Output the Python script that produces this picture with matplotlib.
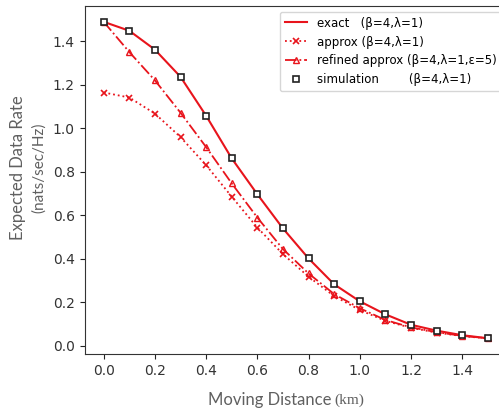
import matplotlib
matplotlib.use("Agg")
import matplotlib.pyplot as plt

distance = [0.0, 0.1, 0.2, 0.3, 0.4, 0.5, 0.6, 0.7, 0.8, 0.9, 1.0, 1.1, 1.2, 1.3, 1.4, 1.5]
exact = [1.489, 1.448, 1.361, 1.236, 1.057, 0.861, 0.696, 0.539, 0.401, 0.282, 0.204, 0.144, 0.096, 0.069, 0.048, 0.034]
approx = [1.164, 1.141, 1.067, 0.959, 0.830, 0.685, 0.543, 0.421, 0.317, 0.228, 0.164, 0.114, 0.082, 0.060, 0.044, 0.033]
refined = [1.489, 1.350, 1.220, 1.071, 0.913, 0.746, 0.589, 0.444, 0.332, 0.237, 0.172, 0.118, 0.084, 0.062, 0.045, 0.034]
simulation = [1.489, 1.448, 1.361, 1.236, 1.057, 0.861, 0.696, 0.539, 0.401, 0.282, 0.204, 0.144, 0.096, 0.069, 0.048, 0.034]

labels = ["exact   (\u03b2=4,\u03bb=1)",
          "approx (\u03b2=4,\u03bb=1)",
          "refined approx (\u03b2=4,\u03bb=1,\u03b5=5)",
          "simulation        (\u03b2=4,\u03bb=1)"]
xticks = [0.0, 0.2, 0.4, 0.6, 0.8, 1.0, 1.2, 1.4]
yticks = [0.0, 0.2, 0.4, 0.6, 0.8, 1.0, 1.2, 1.4]

W, H = 499, 409
fig = plt.figure(figsize=(W / 100, H / 100), dpi=100)
left, right, top, bottom = 84.5, 507, 6, 354.3
ax = fig.add_axes([left / W, (H - bottom) / H, (right - left) / W, (bottom - top) / H])

red = "#e8141c"
ax.plot(distance, exact, color=red, lw=1.5, label=labels[0])
ax.plot(distance, approx, color=red, lw=1.3, ls=":", marker="x", ms=4.5, mew=1.2, label=labels[1])
ax.plot(distance, refined, color=red, lw=1.3, ls="-.", marker="^", ms=4.5, mfc="none", mew=1.0, label=labels[2])
ax.plot(distance, simulation, ls="none", marker="s", ms=4.5, mfc="white", mec="#222222", mew=1.2, label=labels[3])

ax.set_xticks(xticks)
ax.set_yticks(yticks)
ax.set_xticklabels([f"{v:.1f}" for v in xticks])
ax.set_yticklabels([f"{v:.1f}" for v in yticks])
ax.tick_params(labelsize=10, colors="#222222", labelcolor="#333333")
for s in ax.spines.values():
    s.set_color("#333333")

ax.legend(loc="upper right", fontsize=8.5, handlelength=1.9, borderaxespad=0.5,
          framealpha=0.8, edgecolor="#cccccc", labelspacing=0.5)

grey = "#606060"
fig.text(18 / W, 1 - 168 / H, "Expected Data Rate", rotation=90, ha="center", va="center",
         fontsize=12, color=grey, family="Lato")
fig.text(39 / W, 1 - 168 / H, "(nats/sec/Hz)", rotation=90, ha="center", va="center",
         fontsize=11, color=grey, family="Lato")
fig.text(331 / W, 1 - 400 / H, "Moving Distance", ha="right", va="center",
         fontsize=12, color=grey, family="Lato")
fig.text(334 / W, 1 - 400 / H, "(km)", ha="left", va="center",
         fontsize=11, color=grey, family="Liberation Serif")

fig.savefig("out.png", dpi=100)
